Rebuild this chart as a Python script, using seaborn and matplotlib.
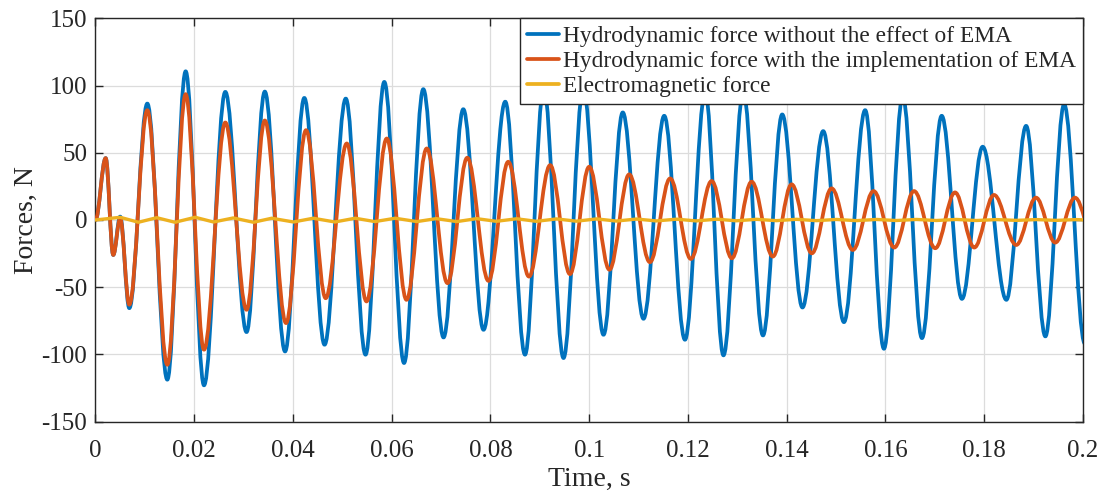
import numpy as np
import pandas as pd
import matplotlib
matplotlib.use("Agg")
import matplotlib.pyplot as plt
import seaborn as sns
from matplotlib.path import Path
from matplotlib.patches import PathPatch
from matplotlib.lines import Line2D

# ---- data: extrema (time in s, force in N) ----
blue_t = [0.0, 0.00207, 0.0036, 0.005, 0.00685, 0.0105, 0.01455, 0.01827, 0.02198, 0.0263,
          0.0306, 0.0343, 0.0384, 0.0423, 0.0464, 0.0507, 0.0547, 0.0585, 0.0625, 0.0664,
          0.0705, 0.0745, 0.0786, 0.0830, 0.0870, 0.0908, 0.0948, 0.0988, 0.1029, 0.1068,
          0.1110, 0.1152, 0.1194, 0.1235, 0.1272, 0.1312, 0.1352, 0.1391, 0.1432, 0.1474,
          0.1516, 0.1559, 0.1597, 0.1635, 0.1674, 0.1714, 0.1755, 0.1797, 0.1845, 0.1885,
          0.1924, 0.1962, 0.2004]
blue_v = [0.0, 46.0, -26.0, 2.5, -65.6, 86.6, -118.8, 110.6, -123.0, 95.3,
          -83.4, 95.5, -97.8, 90.8, -92.8, 90.3, -100.2, 102.7, -106.4, 97.3,
          -87.4, 82.4, -81.7, 88.0, -100.2, 98.0, -102.7, 98.0, -85.4, 80.0,
          -73.5, 77.5, -89.1, 95.0, -100.7, 95.0, -85.9, 78.5, -65.1, 66.1,
          -76.0, 81.7, -95.8, 92.0, -87.9, 77.5, -58.7, 54.5, -59.4, 70.0,
          -86.6, 86.0, -92.0]

orange_t = [0.0, 0.00207, 0.0036, 0.005, 0.00685, 0.0105, 0.01455, 0.01827, 0.02198, 0.0263,
            0.0306, 0.0343, 0.0386, 0.04265, 0.04663, 0.0509, 0.0549, 0.0590, 0.0630, 0.0671,
            0.0713, 0.0753, 0.0796, 0.0836, 0.0878, 0.0921, 0.0961, 0.1000, 0.1041, 0.1081,
            0.1123, 0.1164, 0.1206, 0.1248, 0.1289, 0.1329, 0.1372, 0.1410, 0.1451, 0.1491,
            0.1534, 0.1576, 0.1618, 0.1658, 0.1701, 0.1741, 0.1780, 0.1820, 0.1865, 0.1905,
            0.1944, 0.1984, 0.2024]
orange_v = [0.0, 46.0, -26.0, 1.0, -63.0, 81.7, -107.7, 93.6, -96.5, 72.5,
            -66.8, 74.0, -76.7, 66.8, -58.2, 56.9, -60.6, 60.6, -59.4, 53.2,
            -47.0, 46.3, -45.3, 43.3, -42.1, 40.8, -40.3, 39.6, -37.0, 33.9,
            -31.4, 30.9, -29.0, 29.0, -28.5, 28.5, -27.2, 26.5, -24.8, 23.5,
            -22.3, 21.5, -20.5, 21.5, -21.0, 20.5, -20.5, 18.6, -18.6, 16.6,
            -16.8, 16.6, -16.5]

yellow_t = [0.0, 0.0050, 0.0087, 0.0124, 0.0161, 0.0202, 0.0239, 0.0279, 0.0320, 0.0357,
            0.0401, 0.0441, 0.0485, 0.0526, 0.0566, 0.0607, 0.0651, 0.0690, 0.0732, 0.0772,
            0.0812, 0.0853, 0.0893, 0.0934, 0.0974, 0.1015, 0.1055, 0.1096, 0.1136, 0.1177,
            0.1217, 0.1258, 0.1298, 0.1339, 0.1379, 0.1420, 0.1460, 0.1501, 0.1541, 0.1582,
            0.1622, 0.1663, 0.1703, 0.1744, 0.1784, 0.1825, 0.1865, 0.1906, 0.1946, 0.1987,
            0.2000]
yellow_v = [0.0, 2.0, -1.7, 1.7, -1.7, 2.0, -1.5, 1.5, -1.7, 1.3,
            -1.5, 1.3, -1.5, 1.3, -1.2, 1.3, -1.2, 1.0, -1.2, 1.0,
            -1.0, 0.9, -1.0, 0.8, -0.9, 0.8, -0.8, 0.7, -0.7, 0.6,
            -0.7, 0.6, -0.6, 0.5, -0.5, 0.5, -0.5, 0.4, -0.5, 0.4,
            -0.4, 0.4, -0.4, 0.4, -0.4, 0.3, -0.3, 0.3, -0.3, 0.3,
            0.1]

labels = ["Hydrodynamic force without the effect of EMA",
          "Hydrodynamic force with the implementation of EMA",
          "Electromagnetic force"]
xticks = [0, 0.02, 0.04, 0.06, 0.08, 0.1, 0.12, 0.14, 0.16, 0.18, 0.2]
xticklabels = ["0", "0.02", "0.04", "0.06", "0.08", "0.1", "0.12", "0.14", "0.16", "0.18", "0.2"]
yticks = [-150, -100, -50, 0, 50, 100, 150]
yticklabels = ["-150", "-100", "-50", "0", "50", "100", "150"]

colors = ["#0072BD", "#D95319", "#EDB120"]

# ---- style ----
sns.set_style("white")
plt.rcParams["font.family"] = ["Liberation Serif", "DejaVu Serif"]
plt.rcParams["axes.unicode_minus"] = False

fig = plt.figure(figsize=(11.05, 4.96), dpi=100)
ax = fig.add_axes([0.0864, 0.150, 0.8936, 0.813])


def smooth_path(ts, vs):
    """Cubic Bezier path through the read extrema (horizontal tangents at extrema)."""
    a = 1 - 2 / np.pi
    verts = [(ts[0], vs[0])]
    codes = [Path.MOVETO]
    for i in range(len(ts) - 1):
        t0, v0, t1, v1 = ts[i], vs[i], ts[i + 1], vs[i + 1]
        dt = t1 - t0
        verts += [(t0 + a * dt, v0), (t1 - a * dt, v1), (t1, v1)]
        codes += [Path.CURVE4] * 3
    return Path(verts, codes)


lw = 2.7
for (ts, vs), c, z in [((blue_t, blue_v), colors[0], 2), ((orange_t, orange_v), colors[1], 3)]:
    patch = PathPatch(smooth_path(ts, vs), fill=False, edgecolor=c, lw=lw,
                      joinstyle="round", capstyle="butt", zorder=z)
    patch.set_clip_path(ax.patch)
    ax.add_patch(patch)

df_y = pd.DataFrame({"t": yellow_t, "F": yellow_v})
sns.lineplot(data=df_y, x="t", y="F", ax=ax, color=colors[2], lw=2.4, zorder=4,
             sort=False, estimator=None)

ax.set_xlim(0, 0.2)
ax.set_ylim(-150, 150)
ax.set_xticks(xticks)
ax.set_xticklabels(xticklabels)
ax.set_yticks(yticks)
ax.set_yticklabels(yticklabels)

ax.grid(True, color="#dcdcdc", lw=0.9)
ax.set_axisbelow(True)
for s in ax.spines.values():
    s.set_visible(True)
    s.set_color("#262626")
    s.set_linewidth(1.0)
ax.tick_params(direction="in", length=6, width=1.0, colors="#262626",
               labelsize=18, top=True, right=True, bottom=True, left=True)
ax.tick_params(axis="x", pad=13)
ax.tick_params(axis="y", pad=6)
for lab in ax.get_xticklabels() + ax.get_yticklabels():
    lab.set_color("#262626")

ax.set_xlabel("Time, s", fontsize=20, color="#262626", labelpad=4)
ax.set_ylabel("Forces, N", fontsize=20, color="#262626", labelpad=2)

handles = [Line2D([0], [0], color=c, lw=lw) for c in colors]
leg = ax.legend(handles, labels, loc="upper right", fontsize=16.8, frameon=True,
                fancybox=False, framealpha=1, edgecolor="#262626",
                borderaxespad=0, handlelength=1.4, handletextpad=0.15,
                labelspacing=0.16, borderpad=0.3)
leg.get_frame().set_linewidth(1.0)
leg.set_zorder(10)

fig.savefig("out.png", dpi=100, facecolor="white")
